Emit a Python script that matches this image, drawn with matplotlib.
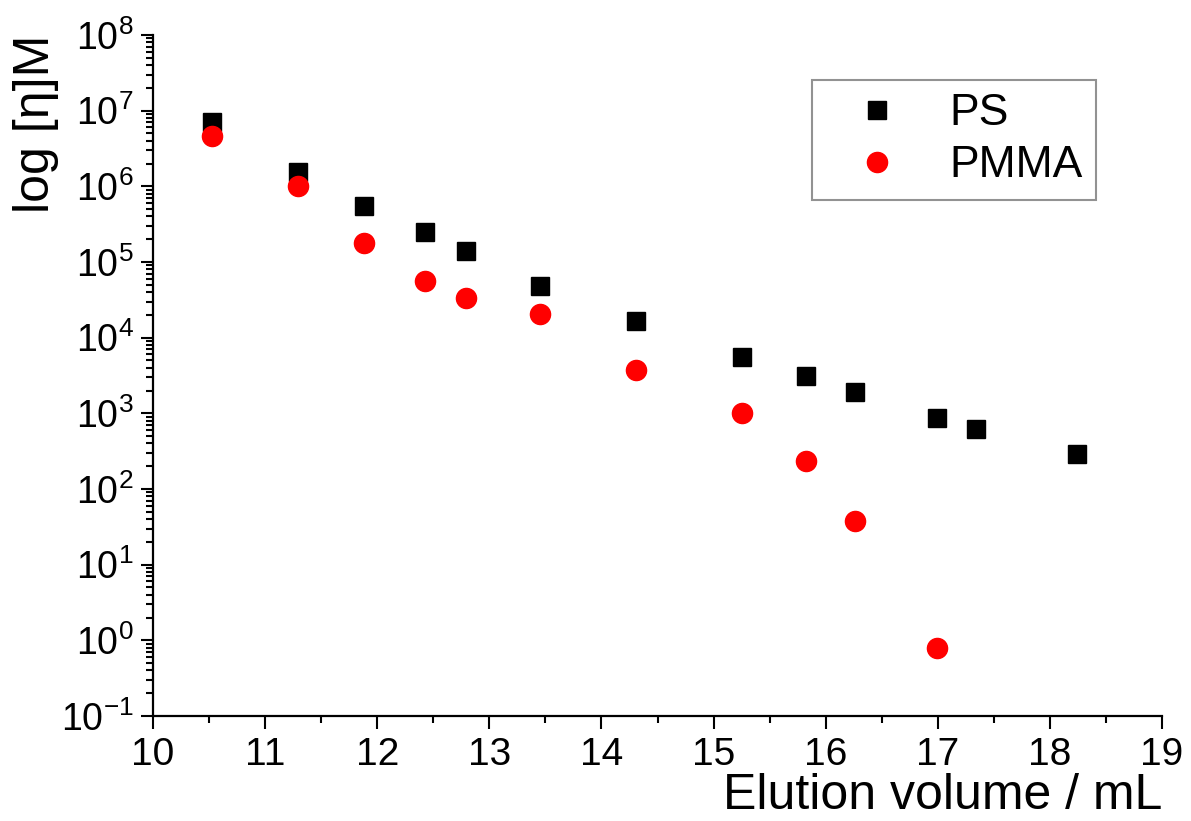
import matplotlib
matplotlib.use("Agg")
from matplotlib import pyplot as plt
from matplotlib.ticker import LogLocator, MultipleLocator, NullFormatter

plt.rcParams['font.family'] = ['Liberation Sans', 'DejaVu Sans']
plt.rcParams['mathtext.fontset'] = 'custom'
plt.rcParams['mathtext.rm'] = 'Liberation Sans'
plt.rcParams['mathtext.it'] = 'Liberation Sans:italic'

ps_x = [10.53, 11.29, 11.88, 12.43, 12.79, 13.45, 14.31, 15.25, 15.82, 16.26, 16.99, 17.34, 18.24]
ps_y = [7.1e6, 1.55e6, 5.5e5, 2.5e5, 1.4e5, 4.8e4, 1.66e4, 5.6e3, 3.1e3, 1.9e3, 870, 630, 290]

pmma_x = [10.53, 11.29, 11.88, 12.43, 12.79, 13.45, 14.31, 15.25, 15.82, 16.26, 16.99]
pmma_y = [4.6e6, 1.0e6, 1.8e5, 5.6e4, 3.35e4, 2.05e4, 3.7e3, 1.0e3, 235, 38, 0.8]

fig = plt.figure(figsize=(11.91, 8.21), dpi=100)
ax = fig.add_axes([0.1285, 0.1279, 0.8472, 0.8295])

ax.plot(ps_x, ps_y, linestyle="none", marker="s", markersize=13, color="black", label="PS")
ax.plot(pmma_x, pmma_y, linestyle="none", marker="o", markersize=14.5, color="red",
        markeredgecolor="red", label="PMMA")

ax.set_yscale("log")
ax.set_xlim(10, 19)
ax.set_ylim(1e-1, 1e8)
ax.xaxis.set_major_locator(MultipleLocator(1))
ax.xaxis.set_minor_locator(MultipleLocator(0.5))
ax.yaxis.set_major_locator(LogLocator(base=10, numticks=20))
ax.yaxis.set_minor_locator(LogLocator(base=10, subs=range(2, 10), numticks=20))
ax.yaxis.set_minor_formatter(NullFormatter())

for side in ["top", "right"]:
    ax.spines[side].set_visible(False)
for side in ["left", "bottom"]:
    ax.spines[side].set_linewidth(1.6)

ax.tick_params(axis="both", which="major", direction="out", length=9, width=1.5, labelsize=28)
ax.tick_params(axis="both", which="minor", direction="out", length=5, width=1.5)
ax.tick_params(axis="x", which="major", pad=6)
ax.tick_params(axis="y", which="major", pad=5, labelsize=27)

ax.set_xlabel("Elution volume / mL", fontsize=36, loc="right", labelpad=0)
ax.set_ylabel("log [η]M", fontsize=36, loc="top", labelpad=1)

leg = ax.legend(loc="upper left", bbox_to_anchor=(0.682, 0.9026), bbox_transform=fig.transFigure,
                borderaxespad=0, fontsize=32, fancybox=False, edgecolor="#777777",
                handletextpad=0.45, labelspacing=0.25, borderpad=0.3, handlelength=2.33)
leg.get_frame().set_linewidth(1.5)

fig.savefig("out.png", dpi=100)
